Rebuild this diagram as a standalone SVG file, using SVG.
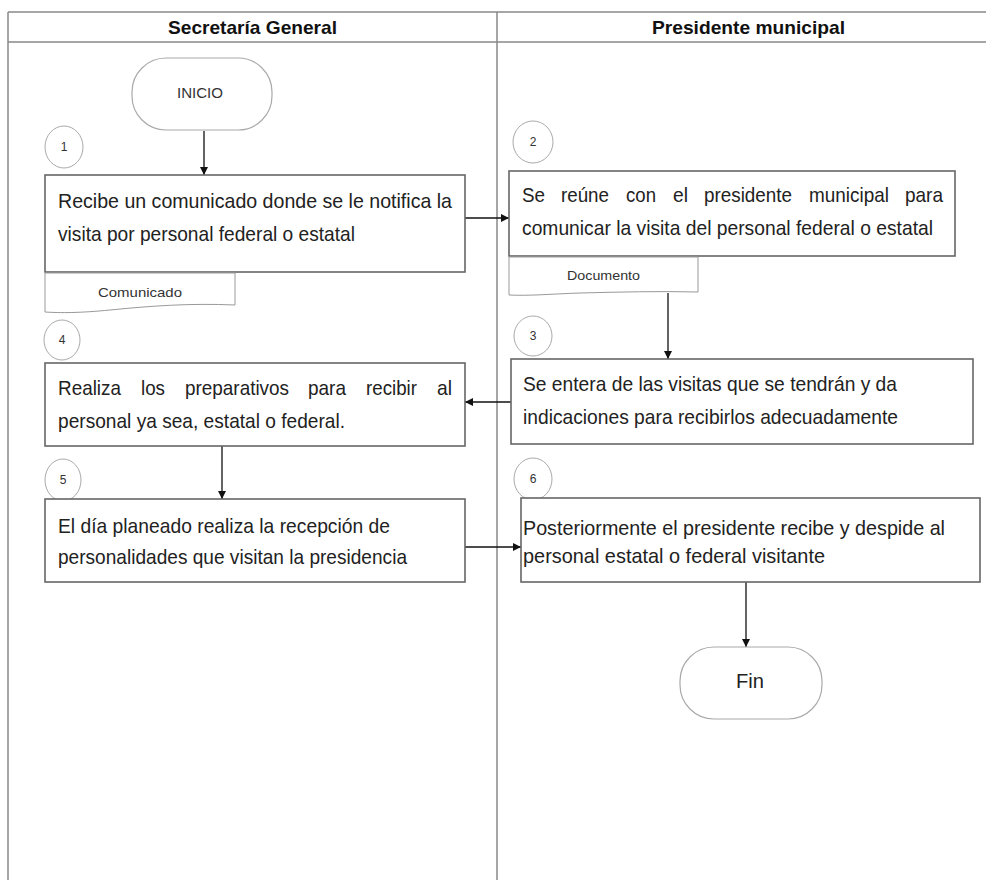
<svg xmlns="http://www.w3.org/2000/svg" width="986" height="880" viewBox="0 0 986 880">
<style>
.frame{stroke:#888;stroke-width:1.5;fill:none}
.box{fill:#fff;stroke:#666;stroke-width:1.6}
.term{fill:#fff;stroke:#aaa;stroke-width:1.2}
.circ{fill:#fff;stroke:#aaa;stroke-width:1}
.doc{fill:#fff;stroke:#999;stroke-width:1}
.t{font-family:"Liberation Sans",Arial,sans-serif;fill:#222;font-size:21px}
.h{font-family:"Liberation Sans",Arial,sans-serif;fill:#111;font-size:19px;font-weight:bold}
.n{font-family:"Liberation Sans",Arial,sans-serif;fill:#333;font-size:12px;text-anchor:middle}
.s{font-family:"Liberation Sans",Arial,sans-serif;fill:#333;font-size:14px}
.d{font-family:"Liberation Sans",Arial,sans-serif;fill:#333;font-size:13px}
.c{stroke:#111;stroke-width:1.3;fill:none;marker-end:url(#ah)}
</style>
<defs>
<marker id="ah" viewBox="0 0 10 10" refX="10" refY="5" markerWidth="8" markerHeight="8" markerUnits="userSpaceOnUse" orient="auto">
<path d="M0,0 L10,5 L0,10 z" fill="#111"/>
</marker>
</defs>
<rect width="986" height="880" fill="#fff"/>
<g id="frame">
<line class="frame" x1="8" y1="12" x2="986" y2="12"/>
<line class="frame" x1="8" y1="42" x2="986" y2="42"/>
<line class="frame" x1="8" y1="12" x2="8" y2="880"/>
<line class="frame" x1="497" y1="12" x2="497" y2="880"/>
<text class="h" x="168" y="34" textLength="169" lengthAdjust="spacingAndGlyphs">Secretaría General</text>
<text class="h" x="652" y="34" textLength="193" lengthAdjust="spacingAndGlyphs">Presidente municipal</text>
</g>
<g id="connectors">
<line class="c" x1="204" y1="131" x2="204" y2="175"/>
<line class="c" x1="465" y1="218" x2="509" y2="218"/>
<line class="c" x1="668" y1="293" x2="668" y2="359"/>
<line class="c" x1="511" y1="402" x2="465" y2="402"/>
<line class="c" x1="222" y1="446" x2="222" y2="499"/>
<line class="c" x1="465" y1="547" x2="521" y2="547"/>
<line class="c" x1="746" y1="582" x2="746" y2="647"/>
</g>
<g id="inicio">
<rect class="term" x="132" y="58" width="140" height="72" rx="34" ry="34"/>
<text class="s" x="177" y="98" textLength="46" lengthAdjust="spacingAndGlyphs">INICIO</text>
</g>
<g id="c1"><ellipse class="circ" cx="64" cy="147" rx="19" ry="21"/><text class="n" x="64" y="151">1</text></g>
<g id="box1">
<rect class="box" x="45" y="175" width="420" height="97"/>
<text class="t" x="58" y="208" textLength="394" lengthAdjust="spacingAndGlyphs">Recibe un comunicado donde se le notifica la</text>
<text class="t" x="58" y="241" textLength="297" lengthAdjust="spacingAndGlyphs">visita por personal federal o estatal</text>
</g>
<g id="doc1">
<path class="doc" d="M45,273 L235,273 L235,305 C190,303 150,306 110,310 C80,313 60,313 45,312 Z"/>
<text class="d" x="98" y="297" textLength="84" lengthAdjust="spacingAndGlyphs">Comunicado</text>
</g>
<g id="c2"><ellipse class="circ" cx="533" cy="142" rx="20" ry="21"/><text class="n" x="533" y="146">2</text></g>
<g id="box2">
<rect class="box" x="509" y="171" width="446" height="85"/>
<text class="t" y="202"><tspan x="522" textLength="23" lengthAdjust="spacingAndGlyphs">Se</tspan> <tspan x="561" textLength="48" lengthAdjust="spacingAndGlyphs">reúne</tspan> <tspan x="626" textLength="30" lengthAdjust="spacingAndGlyphs">con</tspan> <tspan x="673" textLength="15" lengthAdjust="spacingAndGlyphs">el</tspan> <tspan x="704" textLength="88" lengthAdjust="spacingAndGlyphs">presidente</tspan> <tspan x="809" textLength="80" lengthAdjust="spacingAndGlyphs">municipal</tspan> <tspan x="905" textLength="38" lengthAdjust="spacingAndGlyphs">para</tspan></text>
<text class="t" x="522" y="235" textLength="411" lengthAdjust="spacingAndGlyphs">comunicar la visita del personal federal o estatal</text>
</g>
<g id="doc2">
<path class="doc" d="M509,257 L698,257 L698,292 C660,291 620,292 580,293 C550,294 530,296 509,295 Z"/>
<text class="d" x="567" y="280" textLength="73" lengthAdjust="spacingAndGlyphs">Documento</text>
</g>
<g id="c3"><ellipse class="circ" cx="533" cy="336" rx="19" ry="20"/><text class="n" x="533" y="340">3</text></g>
<g id="box3">
<rect class="box" x="511" y="359" width="462" height="85"/>
<text class="t" x="523" y="391" textLength="374" lengthAdjust="spacingAndGlyphs">Se entera de las visitas que se tendrán y da</text>
<text class="t" x="523" y="424" textLength="375" lengthAdjust="spacingAndGlyphs">indicaciones para recibirlos adecuadamente</text>
</g>
<g id="c4"><ellipse class="circ" cx="62" cy="340" rx="18" ry="20"/><text class="n" x="62" y="344">4</text></g>
<g id="box4">
<rect class="box" x="45" y="363" width="420" height="83"/>
<text class="t" y="395"><tspan x="58" textLength="63" lengthAdjust="spacingAndGlyphs">Realiza</tspan> <tspan x="141" textLength="24" lengthAdjust="spacingAndGlyphs">los</tspan> <tspan x="185" textLength="104" lengthAdjust="spacingAndGlyphs">preparativos</tspan> <tspan x="308" textLength="38" lengthAdjust="spacingAndGlyphs">para</tspan> <tspan x="366" textLength="51" lengthAdjust="spacingAndGlyphs">recibir</tspan> <tspan x="437" textLength="15" lengthAdjust="spacingAndGlyphs">al</tspan></text>
<text class="t" x="58" y="428" textLength="287" lengthAdjust="spacingAndGlyphs">personal ya sea, estatal o federal.</text>
</g>
<g id="c5"><ellipse class="circ" cx="63" cy="480" rx="18" ry="21"/><text class="n" x="63" y="484">5</text></g>
<g id="box5">
<rect class="box" x="45" y="499" width="420" height="83"/>
<text class="t" x="58" y="533" textLength="332" lengthAdjust="spacingAndGlyphs">El día planeado realiza la recepción de</text>
<text class="t" x="58" y="564" textLength="349" lengthAdjust="spacingAndGlyphs">personalidades que visitan la presidencia</text>
</g>
<g id="c6"><ellipse class="circ" cx="533" cy="479" rx="19" ry="21"/><text class="n" x="533" y="483">6</text></g>
<g id="box6">
<rect class="box" x="521" y="498" width="459" height="84"/>
<text class="t" x="523" y="535" textLength="422" lengthAdjust="spacingAndGlyphs">Posteriormente el presidente recibe y despide al</text>
<text class="t" x="523" y="563" textLength="302" lengthAdjust="spacingAndGlyphs">personal estatal o federal visitante</text>
</g>
<g id="fin">
<rect class="term" x="680" y="647" width="142" height="72" rx="34" ry="34"/>
<text class="t" x="736" y="688" textLength="28" lengthAdjust="spacingAndGlyphs">Fin</text>
</g>
</svg>
